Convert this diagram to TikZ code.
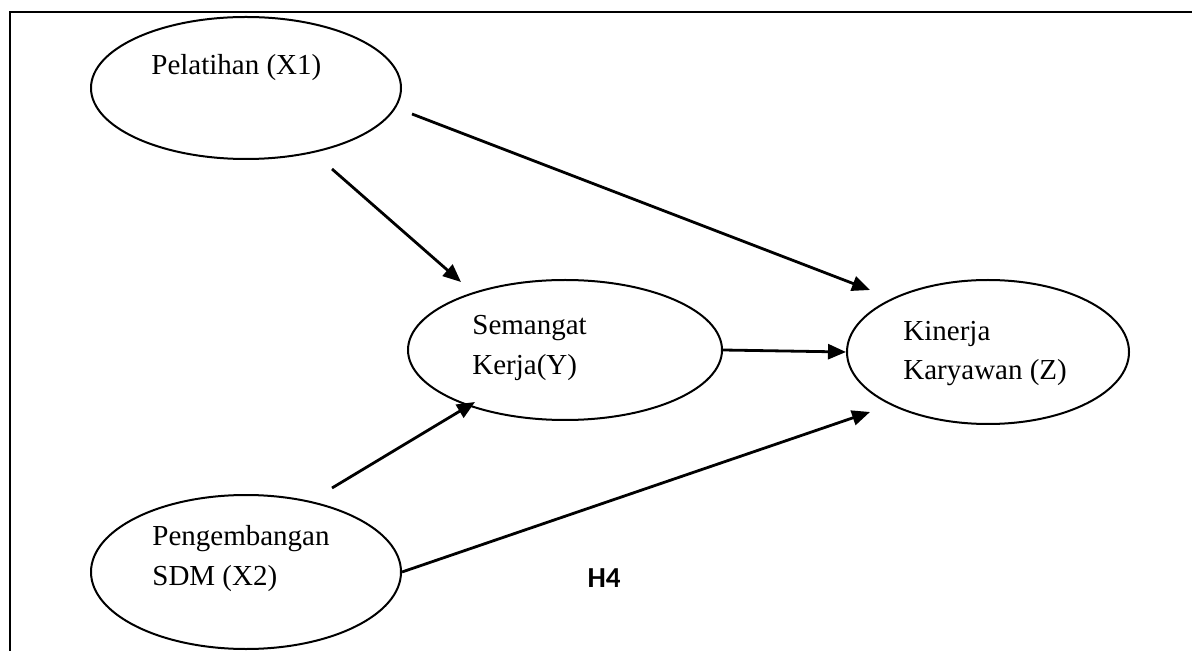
\documentclass[tikz,border=0pt]{standalone}
\usepackage{fontspec}
\setmainfont{Liberation Serif}
\newfontfamily\hfont{Carlito}
\usetikzlibrary{arrows.meta,shapes.geometric}

\tikzset{
	var/.style={draw, ellipse, line width=1pt, inner sep=0pt},
	lbl/.style={anchor=base west, align=left, inner sep=0pt,
		font=\fontsize{14.5}{20}\selectfont},
	path/.style={line width=1.4pt, -{Triangle[length=9pt,width=7.5pt]}}
}

\begin{document}
\begin{tikzpicture}[x=0.5pt,y=-0.5pt]
\useasboundingbox (0,0) rectangle (1192,651);
% frame
\draw[line width=1pt] (10,651) -- (10,12) -- (1192,12);
% variables
\node[var, minimum width=155pt, minimum height=71pt] (x1) at (246,88) {};
\node[var, minimum width=155pt, minimum height=77pt] (x2) at (246,572) {};
\node[var, minimum width=157pt, minimum height=70pt] (y) at (565,350) {};
\node[var, minimum width=141pt, minimum height=72pt] (z) at (988,352) {};
\node[lbl] (tx1) at (151,75) {Pelatihan (X1)};
\node[lbl] (tx2) at (152,585) {Pengembangan\\SDM (X2)};
\node[lbl] (ty) at (472,375) {Semangat\\Kerja(Y)};
\node[lbl] (tz) at (903,380) {Kinerja\\Karyawan (Z)};
\node[font=\hfont\bfseries\fontsize{14.5}{16}\selectfont, inner sep=0pt] (h4) at (604,578) {H4};
% arrow ends
\coordinate (x1a) at (332,169);
\coordinate (x1b) at (412,114);
\coordinate (x2a) at (332,488);
\coordinate (x2b) at (402,572);
\coordinate (ya) at (461,282);
\coordinate (yb) at (475,402);
\coordinate (za) at (870,290);
\coordinate (zb) at (870,412);
% paths
\draw[path] (x1a) -- (ya);
\draw[path] (x1b) -- (za);
\draw[path] (x2a) -- (yb);
\draw[path] (x2b) -- (zb);
\draw[path] (y.east) -- (z.west);
\end{tikzpicture}
\end{document}
